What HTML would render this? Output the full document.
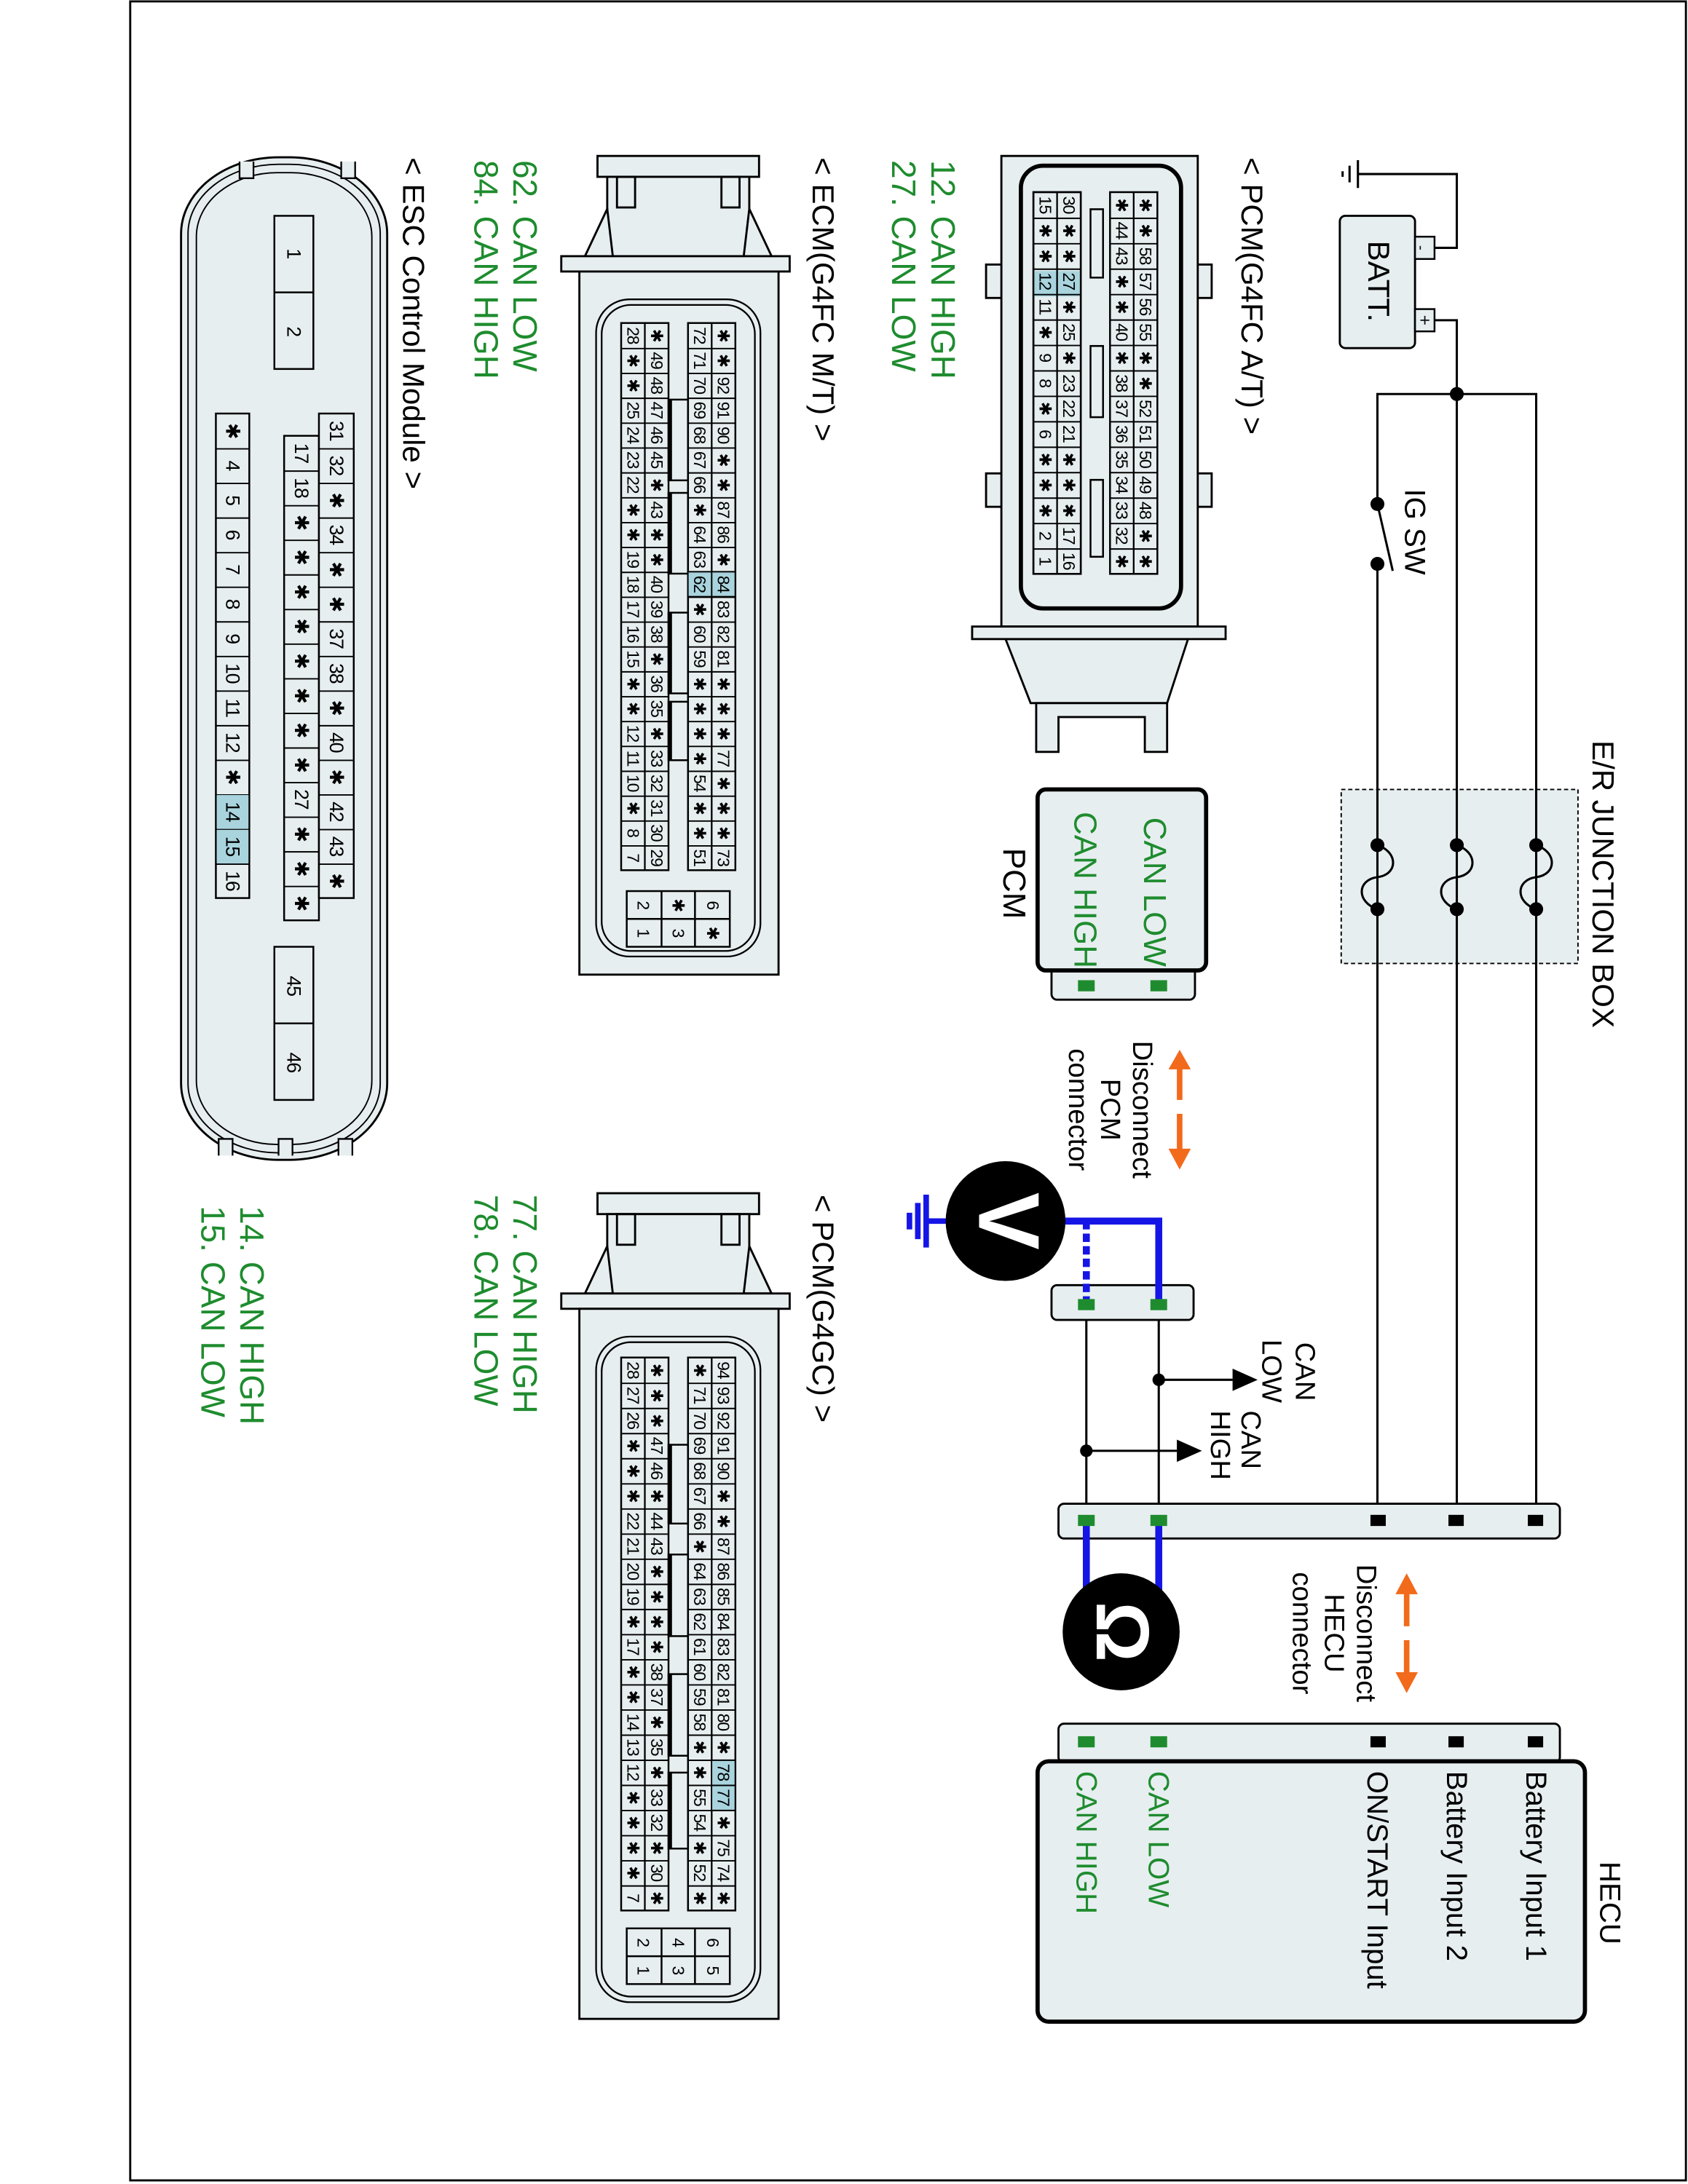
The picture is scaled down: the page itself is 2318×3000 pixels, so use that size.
<!DOCTYPE html>
<html><head><meta charset="utf-8"><style>
html,body{margin:0;padding:0;background:#fff}
svg{display:block}
text{font-family:"Liberation Sans","DejaVu Sans",sans-serif}
.c{font-size:12px;text-anchor:middle;dominant-baseline:central;letter-spacing:-0.6px}
.e{font-size:14px;text-anchor:middle;dominant-baseline:central;letter-spacing:-0.6px}
.g{fill:#1e8c2e}
.k{fill:#111}
</style></head><body>
<svg width="2318" height="3000" viewBox="0 0 1212 1568.6" preserveAspectRatio="none" xmlns="http://www.w3.org/2000/svg">
<rect x="0" y="0" width="1212" height="1569" fill="#fff"/>
<rect x="93.5" y="1" width="1117" height="1565" fill="none" stroke="#000" stroke-width="1.5"/>

<!-- ===== power circuit ===== -->
<g stroke="#000" stroke-width="1.6" fill="none">
 <path d="M975 125 H1046 V178 H1030"/>
 <path d="M975 115 V135 M969 119 V131 M964 123 V127"/>
 <path d="M1030 230 H1046 V1080"/>
 <path d="M989 1080 V405 M989 362 V283 H1103 V1080"/>
 <path d="M989 362 L1000 410"/>
 <path d="M780 937 V1092 M832 937 V1092"/>
 <path d="M832 991 H885 M780 1042 H845"/>
</g>
<rect x="962" y="155" width="54" height="95" rx="4" fill="#e7eef0" stroke="#000" stroke-width="1.5"/>
<rect x="1016" y="170" width="14" height="16" fill="#e7eef0" stroke="#000" stroke-width="1.3"/>
<rect x="1016" y="222" width="14" height="16" fill="#e7eef0" stroke="#000" stroke-width="1.3"/>
<text transform="translate(1020,178) rotate(90)" font-size="11" class="k" text-anchor="middle" dominant-baseline="central">-</text>
<text transform="translate(1023,230) rotate(90)" font-size="13" class="k" text-anchor="middle" dominant-baseline="central">+</text>
<text transform="translate(990,202) rotate(90)" font-size="22" text-anchor="middle" dominant-baseline="central">BATT.</text>
<text transform="translate(1016,382) rotate(90)" font-size="21" text-anchor="middle" dominant-baseline="central">IG SW</text>
<g fill="#000">
 <circle cx="1046" cy="283" r="5"/><circle cx="989" cy="362" r="5"/><circle cx="989" cy="405" r="5"/>
 <circle cx="832" cy="991" r="4.5"/><circle cx="780" cy="1042" r="4.5"/>
 <path d="M885 983 L903 991 L885 999 Z"/><path d="M845 1034 L863 1042 L845 1050 Z"/>
</g>
<!-- junction box -->
<rect x="963" y="567" width="170" height="125" fill="#e7eef0" stroke="#000" stroke-width="1" stroke-dasharray="3 2"/>
<g stroke="#000" stroke-width="1.6" fill="none">
 <path d="M989 607 C1004 612,1004 628,989 630 C974 632,974 648,989 653"/>
 <path d="M1046 607 C1061 612,1061 628,1046 630 C1031 632,1031 648,1046 653"/>
 <path d="M1103 607 C1118 612,1118 628,1103 630 C1088 632,1088 648,1103 653"/>
 <path d="M989 567 V692 M1046 567 V692 M1103 567 V692"/>
</g>
<g fill="#000">
 <circle cx="989" cy="607" r="5"/><circle cx="989" cy="653" r="5"/>
 <circle cx="1046" cy="607" r="5"/><circle cx="1046" cy="653" r="5"/>
 <circle cx="1103" cy="607" r="5"/><circle cx="1103" cy="653" r="5"/>
</g>
<text transform="translate(1151,635) rotate(90)" font-size="22" text-anchor="middle" dominant-baseline="central">E/R JUNCTION BOX</text>

<!-- connector bars -->
<rect x="760" y="1080" width="360" height="25" rx="4" fill="#e7eef0" stroke="#000" stroke-width="1.5"/>
<rect x="760" y="1238" width="360" height="28" rx="4" fill="#e7eef0" stroke="#000" stroke-width="1.5"/>
<rect x="755" y="923" width="102" height="25" rx="4" fill="#e7eef0" stroke="#000" stroke-width="1.5"/>
<rect x="755" y="692" width="103" height="26" rx="4" fill="#e7eef0" stroke="#000" stroke-width="1.5"/>
<rect x="745" y="567" width="121" height="130" rx="6" fill="#e7eef0" stroke="#000" stroke-width="3"/>
<rect x="745" y="1265" width="393" height="187" rx="8" fill="#e7eef0" stroke="#000" stroke-width="3"/>

<!-- blue test leads -->
<g stroke="#1515e6" stroke-width="5" fill="none">
 <path d="M762 877 H832 V937"/>
 <path d="M780 877 V935" stroke-dasharray="6 3"/>
 <path d="M780 1092 V1150 M832 1092 V1150"/>
 <path d="M665 877 H680 M665 858 V896 M659 864 V890 M653 871 V883" stroke-width="4"/>
</g>
<!-- pins -->
<g fill="#000">
 <rect x="984" y="1088" width="11" height="8"/><rect x="1040" y="1088" width="11" height="8"/><rect x="1097" y="1088" width="11" height="8"/>
 <rect x="984" y="1247" width="11" height="8"/><rect x="1040" y="1247" width="11" height="8"/><rect x="1097" y="1247" width="11" height="8"/>
</g>
<g fill="#1e8c2e">
 <rect x="774" y="1088" width="12" height="8"/><rect x="826" y="1088" width="12" height="8"/>
 <rect x="774" y="1247" width="12" height="8"/><rect x="826" y="1247" width="12" height="8"/>
 <rect x="774" y="933" width="12" height="8"/><rect x="826" y="933" width="12" height="8"/>
 <rect x="774" y="704" width="12" height="8"/><rect x="826" y="704" width="12" height="8"/>
</g>
<!-- meters -->
<circle cx="722" cy="877" r="43" fill="#000"/>
<text transform="translate(724,877) rotate(90)" font-size="62" font-weight="bold" fill="#fff" text-anchor="middle" dominant-baseline="central">V</text>
<circle cx="805" cy="1172" r="42" fill="#000"/>
<text transform="translate(806,1172) rotate(90)" font-size="54" font-weight="bold" fill="#fff" text-anchor="middle" dominant-baseline="central">Ω</text>

<!-- orange arrows -->
<g fill="#f26a1b" stroke="#f26a1b">
 <path d="M847 790 V766" stroke-width="4"/><path d="M839 768 L847 754 L855 768 Z" stroke="none"/>
 <path d="M847 800 V826" stroke-width="4"/><path d="M839 825 L847 840 L855 825 Z" stroke="none"/>
 <path d="M1010 1168 V1143" stroke-width="4"/><path d="M1002 1145 L1010 1130 L1018 1145 Z" stroke="none"/>
 <path d="M1010 1178 V1202" stroke-width="4"/><path d="M1002 1201 L1010 1216 L1018 1201 Z" stroke="none"/>
</g>
<g font-size="20" text-anchor="middle" dominant-baseline="central">
 <text transform="translate(820,797) rotate(90)">Disconnect</text>
 <text transform="translate(797,797) rotate(90)">PCM</text>
 <text transform="translate(774,797) rotate(90)">connector</text>
 <text transform="translate(981,1173) rotate(90)">Disconnect</text>
 <text transform="translate(958,1173) rotate(90)">HECU</text>
 <text transform="translate(935,1173) rotate(90)">connector</text>
</g>
<g font-size="20" dominant-baseline="central">
 <text transform="translate(937,964) rotate(90)">CAN</text>
 <text transform="translate(913,962) rotate(90)">LOW</text>
 <text transform="translate(898,1013) rotate(90)">CAN</text>
 <text transform="translate(876,1013) rotate(90)">HIGH</text>
</g>
<!-- PCM box labels -->
<g font-size="23" dominant-baseline="central">
 <text class="g" transform="translate(829,587) rotate(90)">CAN LOW</text>
 <text class="g" transform="translate(779,583) rotate(90)">CAN HIGH</text>
 <text transform="translate(728,609) rotate(90)">PCM</text>
</g>
<!-- HECU labels -->
<g font-size="21" dominant-baseline="central">
 <text transform="translate(1156,1337) rotate(90)">HECU</text>
 <text transform="translate(1103,1272) rotate(90)">Battery Input 1</text>
 <text transform="translate(1046,1272) rotate(90)">Battery Input 2</text>
 <text transform="translate(989,1272) rotate(90)">ON/START Input</text>
 <text class="g" transform="translate(832,1272) rotate(90)">CAN LOW</text>
 <text class="g" transform="translate(780,1272) rotate(90)">CAN HIGH</text>
</g>

<!-- titles / green labels -->
<g font-size="22" dominant-baseline="central">
 <text transform="translate(899,113) rotate(90)">&lt; PCM(G4FC A/T) &gt;</text>
 <text transform="translate(591,113) rotate(90)">&lt; ECM(G4FC M/T) &gt;</text>
 <text transform="translate(591,858) rotate(90)">&lt; PCM(G4GC) &gt;</text>
 <text transform="translate(297,113) rotate(90)">&lt; ESC Control Module &gt;</text>
</g>
<g font-size="24" dominant-baseline="central" class="g">
 <text transform="translate(677,115) rotate(90)">12. CAN HIGH</text>
 <text transform="translate(649,115) rotate(90)">27. CAN LOW</text>
 <text transform="translate(377,115) rotate(90)">62. CAN LOW</text>
 <text transform="translate(349,115) rotate(90)">84. CAN HIGH</text>
 <text transform="translate(377,858) rotate(90)">77. CAN HIGH</text>
 <text transform="translate(349,858) rotate(90)">78. CAN LOW</text>
 <text transform="translate(181,866) rotate(90)">14. CAN HIGH</text>
 <text transform="translate(153,866) rotate(90)">15. CAN LOW</text>
</g>

<!-- ===== PCM(G4FC A/T) connector ===== -->
<g stroke="#000" stroke-width="1.5" fill="#e7eef0">
 <rect x="708" y="190" width="13" height="24"/><rect x="708" y="340" width="13" height="24"/>
 <rect x="857" y="190" width="13" height="24"/><rect x="857" y="340" width="13" height="24"/>
 <path d="M722 459 L740 505 L838 505 L853 459 Z"/>
 <path d="M744 505 V540 H760 V515 H822 V540 H838 V505 Z"/>
 <rect x="719" y="112" width="141" height="338"/>
 <rect x="698" y="450" width="182" height="9"/>
 <rect x="733" y="119" width="115" height="318" rx="16" stroke-width="3"/>
</g>
<g transform="translate(831,138) rotate(90) scale(1.023,1)">
 <rect x="55.4" y="55" width="17.86" height="34" fill="#a9d4de"/>
 <g fill="#e7eef0" stroke="#000" stroke-width="1.3">
  <rect x="12" y="39" width="48" height="9"/><rect x="108" y="39" width="50" height="9"/><rect x="202" y="39" width="54" height="9"/>
  <rect x="0" y="0" width="268" height="34"/><rect x="0" y="55" width="268" height="34"/>
 </g>
 <rect x="55.4" y="55" width="17.86" height="34" fill="#a9d4de"/>
 <g stroke="#000" fill="none">
  <path d="M0 17 H268 M0 72 H268" stroke-width="1.2"/>
  <path d="M17.86 17 H260" stroke-width="34" stroke-dasharray="1 16.86"/>
  <path d="M17.86 72 H260" stroke-width="34" stroke-dasharray="1 16.86"/>
  <rect x="0" y="55" width="268" height="34" stroke-width="1.3"/>
 </g>
 <text class="c" y="8.5"><tspan x="8.9">✱</tspan><tspan x="26.8">✱</tspan><tspan x="44.7">58</tspan><tspan x="62.5">57</tspan><tspan x="80.4">56</tspan><tspan x="98.2">55</tspan><tspan x="116.1">✱</tspan><tspan x="134">✱</tspan><tspan x="151.8">52</tspan><tspan x="169.7">51</tspan><tspan x="187.5">50</tspan><tspan x="205.4">49</tspan><tspan x="223.3">48</tspan><tspan x="241.1">✱</tspan><tspan x="259">✱</tspan></text>
 <text class="c" y="25.5"><tspan x="8.9">✱</tspan><tspan x="26.8">44</tspan><tspan x="44.7">43</tspan><tspan x="62.5">✱</tspan><tspan x="80.4">✱</tspan><tspan x="98.2">40</tspan><tspan x="116.1">✱</tspan><tspan x="134">38</tspan><tspan x="151.8">37</tspan><tspan x="169.7">36</tspan><tspan x="187.5">35</tspan><tspan x="205.4">34</tspan><tspan x="223.3">33</tspan><tspan x="241.1">32</tspan><tspan x="259">✱</tspan></text>
 <text class="c" y="63.5"><tspan x="8.9">30</tspan><tspan x="26.8">✱</tspan><tspan x="44.7">✱</tspan><tspan x="62.5">27</tspan><tspan x="80.4">✱</tspan><tspan x="98.2">25</tspan><tspan x="116.1">✱</tspan><tspan x="134">23</tspan><tspan x="151.8">22</tspan><tspan x="169.7">21</tspan><tspan x="187.5">✱</tspan><tspan x="205.4">✱</tspan><tspan x="223.3">✱</tspan><tspan x="241.1">17</tspan><tspan x="259">16</tspan></text>
 <text class="c" y="80.5"><tspan x="8.9">15</tspan><tspan x="26.8">✱</tspan><tspan x="44.7">✱</tspan><tspan x="62.5">12</tspan><tspan x="80.4">11</tspan><tspan x="98.2">✱</tspan><tspan x="116.1">9</tspan><tspan x="134">8</tspan><tspan x="151.8">✱</tspan><tspan x="169.7">6</tspan><tspan x="187.5">✱</tspan><tspan x="205.4">✱</tspan><tspan x="223.3">✱</tspan><tspan x="241.1">2</tspan><tspan x="259">1</tspan></text>
</g>

<!-- ===== ECM(G4FC M/T) connector ===== -->
<g id="ecmbody" stroke="#000" stroke-width="1.5" fill="#e7eef0">
 <rect x="429" y="112" width="116" height="15"/>
 <rect x="436" y="127" width="102" height="58"/>
 <path d="M420 184 L436 150 L440 184 Z M554 184 L538 150 L534 184 Z"/>
 <rect x="443" y="127" width="13" height="22" fill="none"/><rect x="518" y="127" width="13" height="22" fill="none"/>
 <rect x="403" y="184" width="164" height="11"/>
 <rect x="416" y="195" width="143" height="505"/>
 <rect x="428" y="215" width="118" height="472" rx="24" stroke-width="1.2"/>
 <rect x="432" y="219" width="110" height="464" rx="21" stroke-width="1.2"/>
</g>
<g transform="translate(528,232) rotate(90)">
 <rect x="178.6" y="0" width="17.86" height="34" fill="#a9d4de"/>
 <g fill="#e7eef0" stroke="#000" stroke-width="1.3">
  <rect x="55" y="34" width="58" height="14"/><rect x="122" y="34" width="58" height="14"/><rect x="208" y="34" width="58" height="14"/><rect x="272" y="34" width="42" height="14"/>
 </g>
 <path d="M55 47 H113 M122 47 H180 M208 47 H266 M272 47 H314" stroke="#000" stroke-width="3"/>
 <g stroke="#000" fill="none">
  <rect x="0" y="0" width="393" height="34" stroke-width="1.3"/><rect x="0" y="48" width="393" height="34" stroke-width="1.3"/>
  <path d="M0 17 H393 M0 65 H393" stroke-width="1.2"/>
  <path d="M17.86 17 H390" stroke-width="34" stroke-dasharray="1 16.86"/>
  <path d="M17.86 65 H390" stroke-width="34" stroke-dasharray="1 16.86"/>
 </g>
 <rect x="178.6" y="0.6" width="17.86" height="33" fill="#a9d4de" opacity="0.9"/>
 <path d="M178.6 0 V34 M196.5 0 V34 M178.6 17 H196.5" stroke="#000" stroke-width="1"/>
 <text class="c" y="8.5"><tspan x="8.9">✱</tspan><tspan x="26.8">✱</tspan><tspan x="44.7">92</tspan><tspan x="62.5">91</tspan><tspan x="80.4">90</tspan><tspan x="98.2">✱</tspan><tspan x="116.1">✱</tspan><tspan x="134">87</tspan><tspan x="151.8">86</tspan><tspan x="169.7">✱</tspan><tspan x="187.5">84</tspan><tspan x="205.4">83</tspan><tspan x="223.3">82</tspan><tspan x="241.1">81</tspan><tspan x="259">✱</tspan><tspan x="276.8">✱</tspan><tspan x="294.7">✱</tspan><tspan x="312.6">77</tspan><tspan x="330.4">✱</tspan><tspan x="348.3">✱</tspan><tspan x="366.1">✱</tspan><tspan x="384">73</tspan></text>
 <text class="c" y="25.5"><tspan x="8.9">72</tspan><tspan x="26.8">71</tspan><tspan x="44.7">70</tspan><tspan x="62.5">69</tspan><tspan x="80.4">68</tspan><tspan x="98.2">67</tspan><tspan x="116.1">66</tspan><tspan x="134">✱</tspan><tspan x="151.8">64</tspan><tspan x="169.7">63</tspan><tspan x="187.5">62</tspan><tspan x="205.4">✱</tspan><tspan x="223.3">60</tspan><tspan x="241.1">59</tspan><tspan x="259">✱</tspan><tspan x="276.8">✱</tspan><tspan x="294.7">✱</tspan><tspan x="312.6">✱</tspan><tspan x="330.4">54</tspan><tspan x="348.3">✱</tspan><tspan x="366.1">✱</tspan><tspan x="384">51</tspan></text>
 <text class="c" y="56.5"><tspan x="8.9">✱</tspan><tspan x="26.8">49</tspan><tspan x="44.7">48</tspan><tspan x="62.5">47</tspan><tspan x="80.4">46</tspan><tspan x="98.2">45</tspan><tspan x="116.1">✱</tspan><tspan x="134">43</tspan><tspan x="151.8">✱</tspan><tspan x="169.7">✱</tspan><tspan x="187.5">40</tspan><tspan x="205.4">39</tspan><tspan x="223.3">38</tspan><tspan x="241.1">✱</tspan><tspan x="259">36</tspan><tspan x="276.8">35</tspan><tspan x="294.7">✱</tspan><tspan x="312.6">33</tspan><tspan x="330.4">32</tspan><tspan x="348.3">31</tspan><tspan x="366.1">30</tspan><tspan x="384">29</tspan></text>
 <text class="c" y="73.5"><tspan x="8.9">28</tspan><tspan x="26.8">✱</tspan><tspan x="44.7">✱</tspan><tspan x="62.5">25</tspan><tspan x="80.4">24</tspan><tspan x="98.2">23</tspan><tspan x="116.1">22</tspan><tspan x="134">✱</tspan><tspan x="151.8">✱</tspan><tspan x="169.7">19</tspan><tspan x="187.5">18</tspan><tspan x="205.4">17</tspan><tspan x="223.3">16</tspan><tspan x="241.1">15</tspan><tspan x="259">✱</tspan><tspan x="276.8">✱</tspan><tspan x="294.7">12</tspan><tspan x="312.6">11</tspan><tspan x="330.4">10</tspan><tspan x="348.3">✱</tspan><tspan x="366.1">8</tspan><tspan x="384">7</tspan></text>
</g>
<!-- ECM small grid -->
<g stroke="#000" stroke-width="1.3" fill="#e7eef0">
 <rect x="450" y="640" width="74" height="40"/>
 <path d="M475 640 V680 M499 640 V680 M450 660 H524" fill="none"/>
</g>
<g class="c">
 <text transform="translate(462,650) rotate(90)">2</text><text transform="translate(462,670) rotate(90)">1</text>
 <text transform="translate(487,650) rotate(90)">✱</text><text transform="translate(487,670) rotate(90)">3</text>
 <text transform="translate(512,650) rotate(90)">6</text><text transform="translate(512,670) rotate(90)">✱</text>
</g>

<!-- ===== PCM(G4GC) connector ===== -->
<g transform="translate(0,745)" stroke="#000" stroke-width="1.5" fill="#e7eef0">
 <rect x="429" y="112" width="116" height="15"/>
 <rect x="436" y="127" width="102" height="58"/>
 <path d="M420 184 L436 150 L440 184 Z M554 184 L538 150 L534 184 Z"/>
 <rect x="443" y="127" width="13" height="22" fill="none"/><rect x="518" y="127" width="13" height="22" fill="none"/>
 <rect x="403" y="184" width="164" height="11"/>
 <rect x="416" y="195" width="143" height="510"/>
 <rect x="428" y="215" width="118" height="478" rx="24" stroke-width="1.2"/>
 <rect x="432" y="219" width="110" height="470" rx="21" stroke-width="1.2"/>
</g>
<g transform="translate(528,975) rotate(90) scale(1.0106,1)">
 <g fill="#e7eef0" stroke="#000" stroke-width="1.3">
  <rect x="62" y="34" width="56" height="14"/><rect x="140" y="34" width="58" height="14"/><rect x="225" y="34" width="58" height="14"/><rect x="295" y="34" width="54" height="14"/>
 </g>
 <path d="M62 47 H118 M140 47 H198 M225 47 H283 M295 47 H349" stroke="#000" stroke-width="3"/>
 <g stroke="#000" fill="none">
  <rect x="0" y="0" width="393" height="34" stroke-width="1.3"/><rect x="0" y="48" width="393" height="34" stroke-width="1.3"/>
  <path d="M0 17 H393 M0 65 H393" stroke-width="1.2"/>
  <path d="M17.86 17 H390" stroke-width="34" stroke-dasharray="1 16.86"/>
  <path d="M17.86 65 H390" stroke-width="34" stroke-dasharray="1 16.86"/>
 </g>
 <rect x="286.2" y="0.6" width="35.2" height="16" fill="#a9d4de"/>
 <path d="M286.2 0 V17 M304.1 0 V17 M321.9 0 V17" stroke="#000" stroke-width="1"/>
 <text class="c" y="8.5"><tspan x="8.9">94</tspan><tspan x="26.8">93</tspan><tspan x="44.7">92</tspan><tspan x="62.5">91</tspan><tspan x="80.4">90</tspan><tspan x="98.2">✱</tspan><tspan x="116.1">✱</tspan><tspan x="134">87</tspan><tspan x="151.8">86</tspan><tspan x="169.7">85</tspan><tspan x="187.5">84</tspan><tspan x="205.4">83</tspan><tspan x="223.3">82</tspan><tspan x="241.1">81</tspan><tspan x="259">80</tspan><tspan x="276.8">✱</tspan><tspan x="294.7">78</tspan><tspan x="312.6">77</tspan><tspan x="330.4">✱</tspan><tspan x="348.3">75</tspan><tspan x="366.1">74</tspan><tspan x="384">✱</tspan></text>
 <text class="c" y="25.5"><tspan x="8.9">✱</tspan><tspan x="26.8">71</tspan><tspan x="44.7">70</tspan><tspan x="62.5">69</tspan><tspan x="80.4">68</tspan><tspan x="98.2">67</tspan><tspan x="116.1">66</tspan><tspan x="134">✱</tspan><tspan x="151.8">64</tspan><tspan x="169.7">63</tspan><tspan x="187.5">62</tspan><tspan x="205.4">61</tspan><tspan x="223.3">60</tspan><tspan x="241.1">59</tspan><tspan x="259">58</tspan><tspan x="276.8">✱</tspan><tspan x="294.7">✱</tspan><tspan x="312.6">55</tspan><tspan x="330.4">54</tspan><tspan x="348.3">✱</tspan><tspan x="366.1">52</tspan><tspan x="384">✱</tspan></text>
 <text class="c" y="56.5"><tspan x="8.9">✱</tspan><tspan x="26.8">✱</tspan><tspan x="44.7">✱</tspan><tspan x="62.5">47</tspan><tspan x="80.4">46</tspan><tspan x="98.2">✱</tspan><tspan x="116.1">44</tspan><tspan x="134">43</tspan><tspan x="151.8">✱</tspan><tspan x="169.7">✱</tspan><tspan x="187.5">✱</tspan><tspan x="205.4">✱</tspan><tspan x="223.3">38</tspan><tspan x="241.1">37</tspan><tspan x="259">✱</tspan><tspan x="276.8">35</tspan><tspan x="294.7">✱</tspan><tspan x="312.6">33</tspan><tspan x="330.4">32</tspan><tspan x="348.3">✱</tspan><tspan x="366.1">30</tspan><tspan x="384">✱</tspan></text>
 <text class="c" y="73.5"><tspan x="8.9">28</tspan><tspan x="26.8">27</tspan><tspan x="44.7">26</tspan><tspan x="62.5">✱</tspan><tspan x="80.4">✱</tspan><tspan x="98.2">✱</tspan><tspan x="116.1">22</tspan><tspan x="134">21</tspan><tspan x="151.8">20</tspan><tspan x="169.7">19</tspan><tspan x="187.5">✱</tspan><tspan x="205.4">17</tspan><tspan x="223.3">✱</tspan><tspan x="241.1">✱</tspan><tspan x="259">14</tspan><tspan x="276.8">13</tspan><tspan x="294.7">12</tspan><tspan x="312.6">✱</tspan><tspan x="330.4">✱</tspan><tspan x="348.3">✱</tspan><tspan x="366.1">✱</tspan><tspan x="384">7</tspan></text>
</g>
<g stroke="#000" stroke-width="1.3" fill="#e7eef0">
 <rect x="450" y="1385" width="74" height="40"/>
 <path d="M475 1385 V1425 M499 1385 V1425 M450 1405 H524" fill="none"/>
</g>
<g class="c">
 <text transform="translate(462,1395) rotate(90)">2</text><text transform="translate(462,1415) rotate(90)">1</text>
 <text transform="translate(487,1395) rotate(90)">4</text><text transform="translate(487,1415) rotate(90)">3</text>
 <text transform="translate(512,1395) rotate(90)">6</text><text transform="translate(512,1415) rotate(90)">5</text>
</g>

<!-- ===== ESC Control Module ===== -->
<g stroke="#000" fill="#e7eef0">
 <rect x="130" y="113" width="148" height="720" rx="70" ry="55" stroke-width="1.5"/>
 <rect x="135" y="118" width="138" height="710" rx="65" ry="50" stroke-width="1" fill="none"/>
 <rect x="141" y="124" width="126" height="698" rx="58" ry="46" stroke-width="1" fill="none"/>
 <path d="M172 116 V128 H182 V116 M245 116 V128 H255 V116" stroke-width="1.2"/>
 <path d="M157 830 V818 H167 V830 M200 830 V818 H210 V830 M243 830 V818 H253 V830" stroke-width="1.2"/>
</g>
<g stroke="#000" stroke-width="1.3" fill="#e7eef0">
 <rect x="197" y="155" width="28" height="110"/><path d="M197 210 H225" fill="none"/>
 <rect x="197" y="680" width="28" height="110"/><path d="M197 735 H225" fill="none"/>
</g>
<g class="e">
 <text transform="translate(211,182) rotate(90)">1</text><text transform="translate(211,238) rotate(90)">2</text>
 <text transform="translate(211,708) rotate(90)">45</text><text transform="translate(211,763) rotate(90)">46</text>
</g>
<!-- ESC left column -->
<g transform="translate(179,297) rotate(90)">
 <rect x="273.5" y="0" width="49.7" height="24" fill="#a9d4de"/>
 <g stroke="#000" fill="none">
  <rect x="0" y="0" width="348" height="24" stroke-width="1.3"/>
  <path d="M24.86 12 H345" stroke-width="24" stroke-dasharray="1 23.86"/>
 </g>
 <rect x="274" y="0.6" width="24" height="22.8" fill="#a9d4de"/><rect x="299" y="0.6" width="24" height="22.8" fill="#a9d4de"/>
 <text class="e" y="12"><tspan x="12.4">✱</tspan><tspan x="37.3">4</tspan><tspan x="62.2">5</tspan><tspan x="87">6</tspan><tspan x="111.9">7</tspan><tspan x="136.7">8</tspan><tspan x="161.6">9</tspan><tspan x="186.5">10</tspan><tspan x="211.3">11</tspan><tspan x="236.2">12</tspan><tspan x="261">✱</tspan><tspan x="285.9">14</tspan><tspan x="310.8">15</tspan><tspan x="335.6">16</tspan></text>
</g>
<g transform="translate(229,313) rotate(90)">
 <g stroke="#000" fill="#e7eef0">
  <rect x="0" y="0" width="348" height="25" stroke-width="1.3"/>
  <path d="M24.86 12.5 H345" stroke-width="25" stroke-dasharray="1 23.86" fill="none"/>
 </g>
 <text class="e" y="12.5"><tspan x="12.4">17</tspan><tspan x="37.3">18</tspan><tspan x="62.2">✱</tspan><tspan x="87">✱</tspan><tspan x="111.9">✱</tspan><tspan x="136.7">✱</tspan><tspan x="161.6">✱</tspan><tspan x="186.5">✱</tspan><tspan x="211.3">✱</tspan><tspan x="236.2">✱</tspan><tspan x="261">27</tspan><tspan x="285.9">✱</tspan><tspan x="310.8">✱</tspan><tspan x="335.6">✱</tspan></text>
</g>
<g transform="translate(254,297) rotate(90)">
 <g stroke="#000" fill="#e7eef0">
  <rect x="0" y="0" width="348" height="25" stroke-width="1.3"/>
  <path d="M24.86 12.5 H345" stroke-width="25" stroke-dasharray="1 23.86" fill="none"/>
 </g>
 <text class="e" y="12.5"><tspan x="12.4">31</tspan><tspan x="37.3">32</tspan><tspan x="62.2">✱</tspan><tspan x="87">34</tspan><tspan x="111.9">✱</tspan><tspan x="136.7">✱</tspan><tspan x="161.6">37</tspan><tspan x="186.5">38</tspan><tspan x="211.3">✱</tspan><tspan x="236.2">40</tspan><tspan x="261">✱</tspan><tspan x="285.9">42</tspan><tspan x="310.8">43</tspan><tspan x="335.6">✱</tspan></text>
</g>
</svg>
</body></html>
